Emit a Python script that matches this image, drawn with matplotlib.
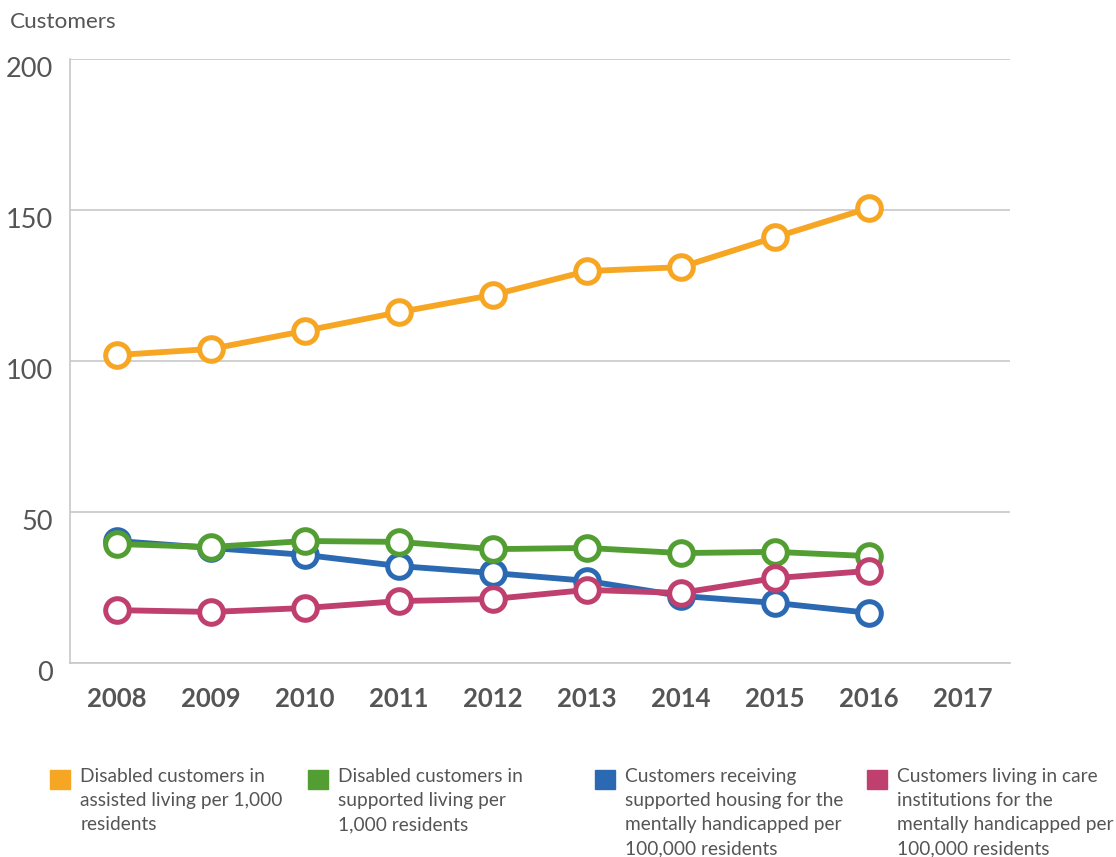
import matplotlib
matplotlib.use("Agg")
import matplotlib.pyplot as plt
from matplotlib.patches import Rectangle
from matplotlib.transforms import ScaledTranslation

plt.rcParams['font.family'] = ['Lato', 'DejaVu Sans']

# data
years = [2008, 2009, 2010, 2011, 2012, 2013, 2014, 2015, 2016]
all_years = [2008, 2009, 2010, 2011, 2012, 2013, 2014, 2015, 2016, 2017]
assisted = [102.0, 104.0, 110.0, 116.2, 121.9, 129.8, 131.1, 141.0, 150.7]
supported = [39.4, 38.4, 40.4, 40.1, 37.7, 38.1, 36.4, 36.8, 35.4]
mental_housing = [40.4, 38.1, 35.8, 32.1, 29.8, 27.2, 22.2, 19.9, 16.6]
care_inst = [17.5, 16.9, 18.2, 20.5, 21.2, 24.2, 23.2, 28.1, 30.5]

labels = [
    "Disabled customers in\nassisted living per 1,000\nresidents",
    "Disabled customers in\nsupported living per\n1,000 residents",
    "Customers receiving\nsupported housing for the\nmentally handicapped per\n100,000 residents",
    "Customers living in care\ninstitutions for the\nmentally handicapped per\n100,000 residents",
]
colors = ['#F6A623', '#529E33', '#2B69B2', '#BF3F6E']
series = [assisted, supported, mental_housing, care_inst]
zorders = [4, 4, 3, 5]

fig = plt.figure(figsize=(11.16, 8.57), dpi=100)
ax = fig.add_axes([0.0627, 0.2264, 0.8423, 0.7046])

for vals, c, z in zip(series, colors, zorders):
    ax.plot(years, vals, color=c, lw=4.2, marker='o', ms=17,
            mfc='white', mec=c, mew=3.6, zorder=z, clip_on=False)

ax.set_xlim(2007.5, 2017.5)
ax.set_ylim(0, 200)
ax.set_yticks([0, 50, 100, 150, 200])
ax.set_xticks(all_years)
ax.grid(axis='y', color='#C8C8C8', lw=1.2)
ax.set_axisbelow(True)
for s in ['top', 'right']:
    ax.spines[s].set_visible(False)
for s in ['left', 'bottom']:
    ax.spines[s].set_color('#C8C8C8')
    ax.spines[s].set_linewidth(1.2)
ax.tick_params(length=0)
ax.tick_params(axis='y', labelsize=19.5, labelcolor='#555555', pad=12)
ax.tick_params(axis='x', labelsize=18.5, labelcolor='#555555', pad=17)
for t in ax.get_xticklabels():
    t.set_fontweight('bold')
# y labels sit a little below their gridlines
shift = ScaledTranslation(0, -0.08, fig.dpi_scale_trans)
for t in ax.get_yticklabels():
    t.set_transform(t.get_transform() + shift)

fig.text(0.009, 0.974, "Customers", fontsize=16.2, color='#555555', va='center')

# legend along the bottom
leg_x = [0.045, 0.276, 0.533, 0.777]
for x, lab, c in zip(leg_x, labels, colors):
    fig.patches.append(Rectangle((x, 0.079), 0.018, 0.023,
                                 transform=fig.transFigure, color=c))
    fig.text(x + 0.027, 0.104, lab, fontsize=13.8, color='#555555',
             va='top', ha='left', linespacing=1.52)

fig.savefig("out.png", dpi=100)
